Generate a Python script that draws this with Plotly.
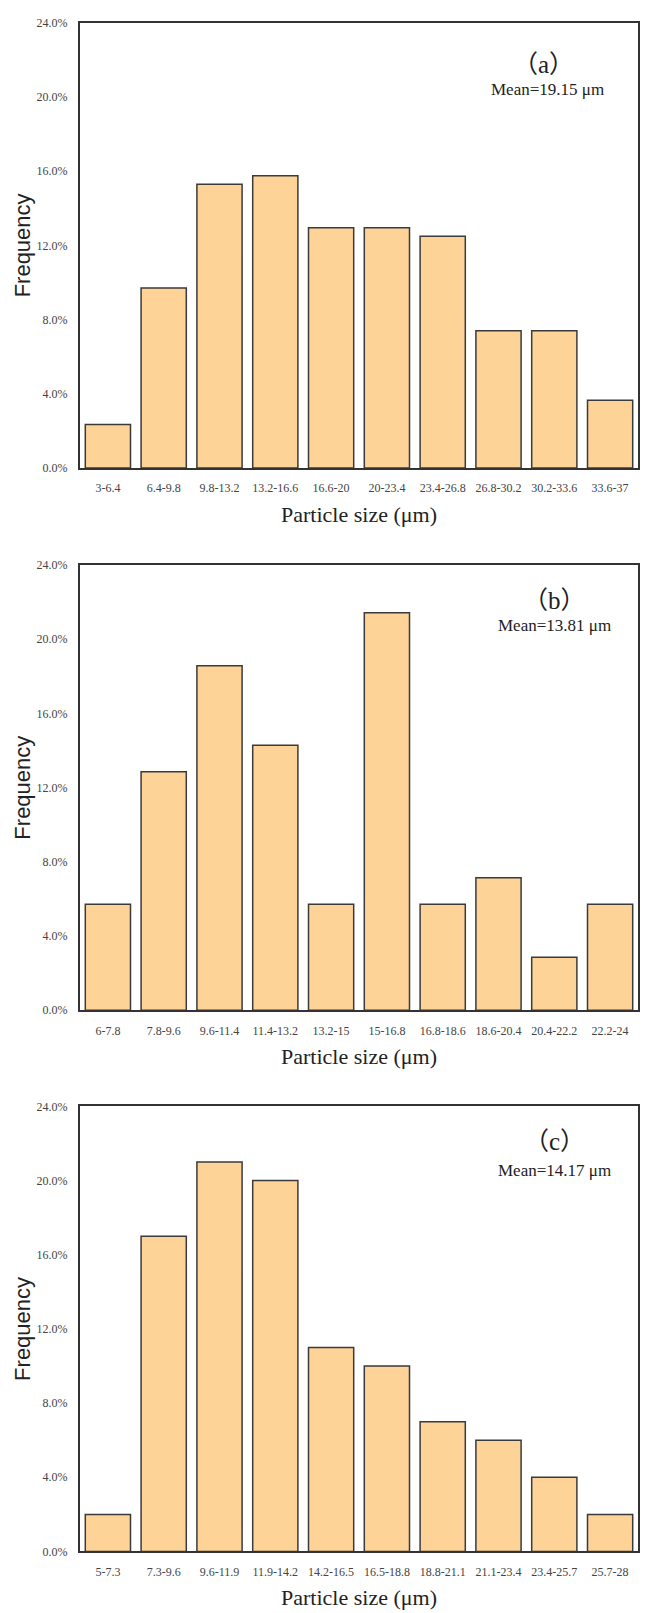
import plotly.graph_objects as go

# ---- data ----
cats_a = ["3-6.4", "6.4-9.8", "9.8-13.2", "13.2-16.6", "16.6-20", "20-23.4",
          "23.4-26.8", "26.8-30.2", "30.2-33.6", "33.6-37"]
freq_a = [2.35, 9.7, 15.3, 15.75, 12.95, 12.95, 12.5, 7.4, 7.4, 3.65]

cats_b = ["6-7.8", "7.8-9.6", "9.6-11.4", "11.4-13.2", "13.2-15", "15-16.8",
          "16.8-18.6", "18.6-20.4", "20.4-22.2", "22.2-24"]
freq_b = [5.71, 12.86, 18.57, 14.29, 5.71, 21.43, 5.71, 7.14, 2.86, 5.71]

cats_c = ["5-7.3", "7.3-9.6", "9.6-11.9", "11.9-14.2", "14.2-16.5", "16.5-18.8",
          "18.8-21.1", "21.1-23.4", "23.4-25.7", "25.7-28"]
freq_c = [2, 17, 21, 20, 11, 10, 7, 6, 4, 2]

panel_tags = ["（a）", "（b）", "（c）"]
mean_texts = ["Mean=19.15 μm", "Mean=13.81 μm", "Mean=14.17 μm"]
ytick_vals = [0, 4, 8, 12, 16, 20, 24]
ytick_text = ["0.0%", "4.0%", "8.0%", "12.0%", "16.0%", "20.0%", "24.0%"]

W, H = 645, 1613
panels = [(cats_a, freq_a), (cats_b, freq_b), (cats_c, freq_c)]
tops = [16, 563, 1109]
plot_h = 449
x0, x1 = 80, 638
tag_pos = [(0.83, 0.907, 0.837, 0.851), (0.85, 0.92, 0.85, 0.865), (0.85, 0.92, 0.85, 0.856)]

SERIF = "Liberation Serif, DejaVu Serif, serif"
SANS = "Liberation Sans, Arial, sans-serif"
fig = go.Figure()
layout = dict(
    width=W, height=H, autosize=False,
    margin=dict(l=0, r=0, t=0, b=0),
    paper_bgcolor="white", plot_bgcolor="white",
    showlegend=False, bargap=0.19,
    annotations=[],
)

for i, ((cats, vals), top) in enumerate(zip(panels, tops)):
    n = "" if i == 0 else str(i + 1)
    xa, ya = "x" + n, "y" + n
    fig.add_trace(go.Bar(
        x=cats, y=vals, xaxis=xa, yaxis=ya,
        marker=dict(color="#FDD398", line=dict(color="#3a3a3a", width=1.5)),
        hoverinfo="x+y",
    ))
    bottom = top + plot_h
    layout["xaxis" + n] = dict(
        domain=[x0 / W, x1 / W], anchor=ya,
        range=[-0.5, len(cats) - 0.5],
        showline=True, linecolor="#333", linewidth=2, mirror=True,
        ticks="", showgrid=False, zeroline=False,
        tickfont=dict(family=SERIF, size=12, color="#444"),
        ticklabelstandoff=8,
        title=dict(text="Particle size (μm)", standoff=12,
                   font=dict(family=SERIF, size=22, color="#222")),
    )
    layout["yaxis" + n] = dict(
        domain=[1 - bottom / H, 1 - top / H], anchor=xa,
        range=[0, 24], tickmode="array", tickvals=ytick_vals, ticktext=ytick_text,
        showline=True, linecolor="#333", linewidth=2, mirror=True,
        ticks="", showgrid=False, zeroline=False,
        tickfont=dict(family=SERIF, size=12, color="#444"),
        ticklabelstandoff=8,
        title=dict(text="Frequency", standoff=0,
                   font=dict(family=SANS, size=22, color="#222")),
    )
    tx, ty, mx, my = tag_pos[i]
    layout["annotations"].append(dict(
        text=panel_tags[i], xref=xa + " domain", yref=ya + " domain",
        x=tx, y=ty, showarrow=False, xanchor="center", yanchor="middle",
        font=dict(family="Liberation Serif, Noto Sans CJK SC, serif", size=25, color="#222"),
    ))
    layout["annotations"].append(dict(
        text=mean_texts[i], xref=xa + " domain", yref=ya + " domain",
        x=mx, y=my, showarrow=False, xanchor="center", yanchor="middle",
        font=dict(family=SERIF, size=17, color="#222"),
    ))

fig.update_layout(**layout)
fig.write_html("out.html")
